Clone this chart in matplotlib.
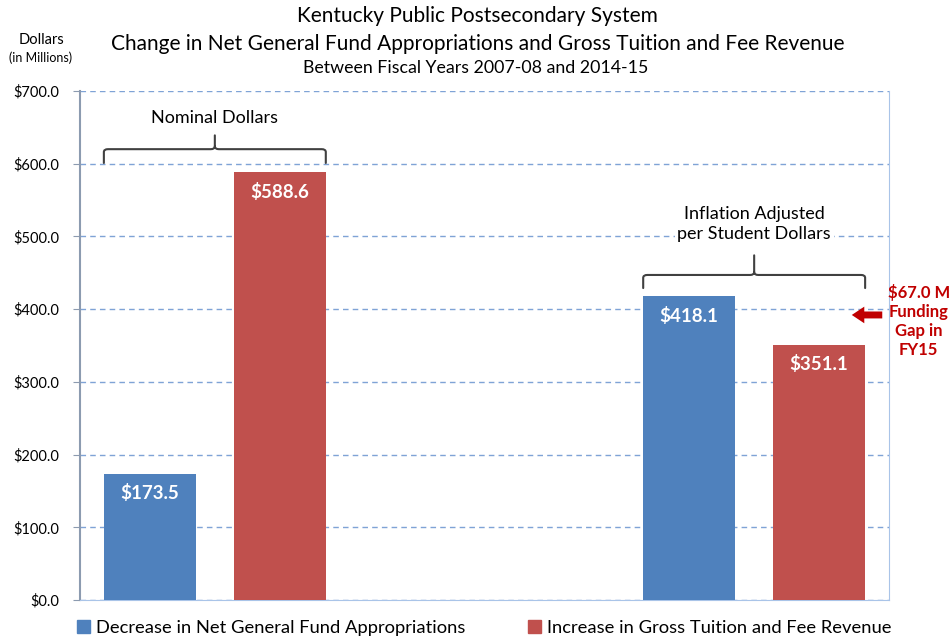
import matplotlib.pyplot as plt
from matplotlib.path import Path
from matplotlib.patches import PathPatch, Patch

plt.rcParams['font.family'] = ['Lato', 'DejaVu Sans']

# data
groups = ['Nominal Dollars', 'Inflation Adjusted\nper Student Dollars']
group_pos = [0, 2]          # middle category is left empty
decrease = [173.5, 418.1]
increase = [588.6, 351.1]
series_names = ['Decrease in Net General Fund Appropriations',
                'Increase in Gross Tuition and Fee Revenue']
gap_text = '$67.0 M\nFunding\nGap in\nFY15'
yticks = [0, 100, 200, 300, 400, 500, 600, 700]

blue = '#4F81BD'
red = '#C0504D'
dark_red = '#C00000'

fig = plt.figure(figsize=(9.49, 6.41), dpi=100)
ax = fig.add_axes([80 / 949, 41 / 641, 809 / 949, 509 / 641])

width = 0.341
off = 0.241
xb = [p - off for p in group_pos]
xr = [p + off for p in group_pos]
bars_b = ax.bar(xb, decrease, width, color=blue, zorder=3)
bars_r = ax.bar(xr, increase, width, color=red, zorder=3)

for bars in (bars_b, bars_r):
    for b in bars:
        h = b.get_height()
        ax.text(b.get_x() + b.get_width() / 2, h - 27, f'${h:.1f}',
                ha='center', va='center', color='white', fontsize=13.5,
                fontweight='bold', zorder=4)

ax.set_xlim(-0.5, 2.5)
ax.set_ylim(0, 700)
ax.set_xticks([])
ax.set_yticks(yticks)
ax.set_yticklabels([f'${v:.1f}' for v in yticks], fontsize=10.5)
ax.tick_params(axis='y', length=5, color='#8C9BB0', pad=10)
ax.yaxis.grid(True, linestyle=(0, (4, 3)), color='#7FA3D6', linewidth=1.0, zorder=0)
ax.spines['top'].set_visible(False)
ax.spines['left'].set_color('#8C9BB0')
ax.spines['left'].set_linewidth(1.5)
ax.spines['right'].set_color('#A9C4E8')
ax.spines['bottom'].set_color('#A9C4E8')


def brace(ax, x0, x1, y_end, y_line, y_tip, r=0.015, ry=4):
    xm = (x0 + x1) / 2
    verts = [(x0, y_end), (x0, y_line - ry), (x0, y_line), (x0 + r, y_line),
             (xm - r, y_line), (xm, y_line), (xm, y_line + ry), (xm, y_tip),
             (xm, y_line + ry), (xm, y_line), (xm + r, y_line),
             (x1 - r, y_line), (x1, y_line), (x1, y_line - ry), (x1, y_end)]
    codes = [Path.MOVETO, Path.LINETO, Path.CURVE3, Path.CURVE3,
             Path.LINETO, Path.CURVE3, Path.CURVE3, Path.LINETO,
             Path.MOVETO, Path.CURVE3, Path.CURVE3,
             Path.LINETO, Path.CURVE3, Path.CURVE3, Path.LINETO]
    ax.add_patch(PathPatch(Path(verts, codes), fill=False, edgecolor='#404040',
                           linewidth=1.5, zorder=5, capstyle='round'))


brace(ax, xb[0] - width / 2, xr[0] + width / 2, 601, 620, 639)
ax.text(group_pos[0], 663, groups[0], ha='center', va='center', fontsize=13)
brace(ax, xb[1] - width / 2, xr[1] + width / 2, 429, 447, 474)
ax.text(group_pos[1], 517, groups[1], ha='center', va='center', fontsize=13,
        linespacing=1.35, zorder=4,
        bbox=dict(facecolor='white', edgecolor='none', pad=2))

# funding gap arrow and note
ax.annotate('', xy=(2.362, 392), xytext=(2.475, 392),
            arrowprops=dict(arrowstyle='simple,head_width=1.2,head_length=0.9,tail_width=0.5',
                            mutation_scale=10, color=dark_red, lw=0,
                            shrinkA=0, shrinkB=0),
            annotation_clip=False, zorder=6)
ax.text(2.61, 384, gap_text, ha='center', va='center', color=dark_red,
        fontsize=12, fontweight='bold', linespacing=1.22, clip_on=False)

# titles
fig.text(0.503, 1 - 16 / 641, 'Kentucky Public Postsecondary System', ha='center', va='center', fontsize=15)
fig.text(0.503, 1 - 44 / 641, 'Change in Net General Fund Appropriations and Gross Tuition and Fee Revenue',
         ha='center', va='center', fontsize=15)
fig.text(0.501, 1 - 68 / 641, 'Between Fiscal Years 2007-08 and 2014-15', ha='center', va='center', fontsize=12.8)
fig.text(41 / 949, 1 - 40 / 641, 'Dollars', ha='center', va='center', fontsize=10.5)
fig.text(41 / 949, 1 - 58 / 641, '(in Millions)', ha='center', va='center', fontsize=9)

handles = [Patch(color=blue), Patch(color=red)]
fig.legend(handles, series_names, loc='center', bbox_to_anchor=(0.51, 1 - 628 / 641),
           ncol=2, frameon=False, fontsize=13.2, handlelength=0.75, handleheight=0.75,
           handletextpad=0.3, columnspacing=3.4)

fig.savefig('out.png', dpi=100)
